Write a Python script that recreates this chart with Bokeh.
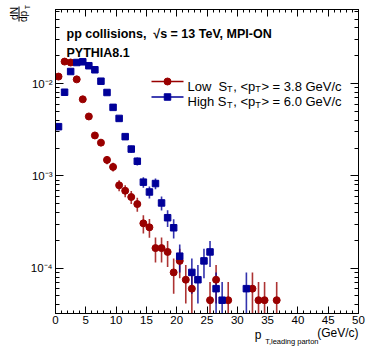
import math
from bokeh.plotting import figure
from bokeh.models import (Range1d, LinearAxis, LogAxis, SingleIntervalTicker,
                          FixedTicker, Label, ColumnDataSource)
from bokeh.embed import file_html
from bokeh.resources import INLINE

# ---------------- data ----------------
low_x = [0.5, 1.5, 2.5, 3.5, 4.5, 5.5, 6.5, 7.5, 8.5, 9.5, 10.5, 11.5, 12.5, 13.5,
         14.5, 15.5, 16.5, 17.5, 18.5, 19.5, 20.5, 21.5, 22.5, 25.5, 26.5, 28.5,
         32.5, 33.5, 34.5, 36.5]
low_y = [0.0119, 0.0173, 0.0169, 0.0111, 0.00675, 0.00440, 0.00274, 0.00229, 0.00149,
         0.00125, 0.00079, 0.00069, 0.00059, 0.000495, 0.000306, 0.000277, 0.000165,
         0.000165, 0.000150, 0.000090, 0.000120, 0.000075, 0.000060, 0.000045,
         0.000075, 0.000045, 0.000060, 0.000045, 0.000045, 0.000045]
low_err = [4.2e-4, 5.1e-4, 5.0e-4, 4.1e-4, 3.2e-4, 2.6e-4, 2.0e-4, 1.85e-4, 1.5e-4,
           1.37e-4, 1.09e-4, 1.02e-4, 9.4e-5, 8.6e-5, 6.8e-5, 6.4e-5, 5.0e-5,
           5.0e-5, 4.7e-5, 3.7e-5, 4.2e-5, 3.35e-5, 3.0e-5, 2.6e-5,
           3.35e-5, 2.6e-5, 3.0e-5, 2.6e-5, 2.6e-5, 2.6e-5]

high_x = [0.5, 1.5, 2.5, 3.5, 4.5, 5.5, 6.5, 7.5, 8.5, 9.5, 10.5, 11.5, 12.5, 13.5,
          14.5, 15.5, 16.5, 17.5, 18.5, 19.5, 20.5, 22.5, 23.5, 24.5, 25.5, 26.5,
          27.5, 31.5]
high_y = [0.00341, 0.00805, 0.0135, 0.0169, 0.0172, 0.0156, 0.0141, 0.0106, 0.0080,
          0.00552, 0.00419, 0.00266, 0.00195, 0.00144, 0.000855, 0.000669, 0.000826,
          0.000509, 0.000352, 0.000274, 0.000135, 0.000090, 0.000075, 0.000120,
          0.000150, 0.000060, 0.000045, 0.000060]
high_err = [2.26e-4, 3.5e-4, 4.5e-4, 5.0e-4, 5.1e-4, 4.85e-4, 4.6e-4, 4.0e-4, 3.5e-4,
            2.9e-4, 2.5e-4, 2.0e-4, 1.7e-4, 1.46e-4, 1.13e-4, 1.0e-4, 1.1e-4,
            8.7e-5, 7.2e-5, 6.4e-5, 4.5e-5, 3.7e-5, 3.35e-5, 4.2e-5,
            4.7e-5, 3.0e-5, 2.6e-5, 3.0e-5]

x_ticks = [0, 5, 10, 15, 20, 25, 30, 35, 40, 45, 50]
y_ticks = [1e-4, 1e-3, 1e-2]
y_tick_labels = ["10\u207b\u2074", "10\u207b\u00b3", "10\u207b\u00b2"]

header1 = "pp collisions,\u00a0 \u221as = 13 TeV, MPI-ON"
header2 = "PYTHIA8.1"
legend_low = ("Low\u00a0 S", "T", ", <p", "T", "> = 3.8 GeV/c")
legend_high = ("High S", "T", ", <p", "T", "> = 6.0 GeV/c")
x_title = ("p", "T,leading parton", "(GeV/c)")
y_title = ("dN", "dp", "T")

RED = "#990000"
BLUE = "#000099"

# ---------------- geometry ----------------
W, H = 366, 353
FL, FR, FT, FB = 55, 358, 9, 313          # frame edges in page pixels
XMIN, XMAX = 0.0, 50.0
YMIN, YMAX = 3.23e-5, 0.0634
LMIN, LMAX = math.log10(YMIN), math.log10(YMAX)


def dx(px):
    return XMIN + (px - FL) * (XMAX - XMIN) / (FR - FL)


def dy(py):
    return 10 ** (LMAX - (py - FT) * (LMAX - LMIN) / (FB - FT))


p = figure(width=W, height=H, y_axis_type="log",
           x_range=Range1d(XMIN, XMAX), y_range=Range1d(YMIN, YMAX),
           output_backend="svg", toolbar_location=None,
           min_border_left=FL, min_border_right=W - FR,
           min_border_top=FT, min_border_bottom=H - FB)
p.styles = {"position": "absolute", "left": "0px", "top": "0px"}
p.xgrid.visible = False
p.ygrid.visible = False
p.outline_line_color = "black"
p.outline_line_width = 1
p.background_fill_color = "white"
p.border_fill_color = "white"

FONT = "Liberation Sans"

# x axis
xa = p.xaxis[0]
xa.ticker = SingleIntervalTicker(interval=5, num_minor_ticks=5)
xa.major_tick_in = 7
xa.major_tick_out = 0
xa.minor_tick_in = 3
xa.minor_tick_out = 0
xa.major_label_standoff = 2
xa.major_label_text_font = FONT
xa.major_label_text_font_size = "11.5px"
xa.major_label_text_color = "black"
xa.axis_line_color = "black"

# y axis
minor_y = []
for e in (-5, -4, -3, -2):
    for m in range(2, 10):
        v = m * 10 ** e
        if YMIN <= v <= YMAX:
            minor_y.append(v)
ya = p.yaxis[0]
ya.ticker = FixedTicker(ticks=y_ticks, minor_ticks=minor_y)
ya.major_label_overrides = {t: lab for t, lab in zip(y_ticks, y_tick_labels)}
ya.major_tick_in = 8
ya.major_tick_out = 0
ya.minor_tick_in = 4
ya.minor_tick_out = 0
ya.major_label_standoff = 3
ya.major_label_text_font = FONT
ya.major_label_text_font_size = "11.5px"
ya.major_label_text_color = "black"
ya.axis_line_color = "black"

# mirrored axes (ticks only, labels invisible)
xt = LinearAxis(ticker=SingleIntervalTicker(interval=5, num_minor_ticks=5),
                major_tick_in=7, major_tick_out=0, minor_tick_in=3, minor_tick_out=0,
                major_label_text_font_size="1px", major_label_text_color=None,
                major_label_standoff=0, axis_line_color="black")
p.add_layout(xt, "above")
yr = LogAxis(ticker=FixedTicker(ticks=y_ticks, minor_ticks=minor_y),
             major_tick_in=8, major_tick_out=0, minor_tick_in=4, minor_tick_out=0,
             major_label_text_font_size="1px", major_label_text_color=None,
             major_label_standoff=0, axis_line_color="black")
p.add_layout(yr, "right")

# ---------------- data glyphs ----------------
low_src = ColumnDataSource(dict(x=low_x, y=low_y,
                                lo=[max(a - b, 1e-9) for a, b in zip(low_y, low_err)],
                                hi=[a + b for a, b in zip(low_y, low_err)]))
high_src = ColumnDataSource(dict(x=high_x, y=high_y,
                                 lo=[max(a - b, 1e-9) for a, b in zip(high_y, high_err)],
                                 hi=[a + b for a, b in zip(high_y, high_err)]))

p.segment(x0="x", y0="lo", x1="x", y1="hi", source=low_src, line_color=RED,
          line_width=1.6, line_alpha=0.8)
p.segment(x0="x", y0="lo", x1="x", y1="hi", source=high_src, line_color=BLUE,
          line_width=1.6, line_alpha=0.8)
p.scatter(x="x", y="y", source=low_src, marker="circle", size=7,
          fill_color=RED, line_color=RED)
p.scatter(x="x", y="y", source=high_src, marker="square", size=6.5,
          fill_color=BLUE, line_color=BLUE)

# legend symbols (drawn by hand inside the frame)
for ypx, col, mk, msize in ((81, RED, "circle", 7), (96.5, BLUE, "square", 6.5)):
    p.line([dx(151), dx(183)], [dy(ypx), dy(ypx)], line_color=col, line_width=1.5)
    p.scatter([dx(167)], [dy(ypx)], marker=mk, size=msize, fill_color=col, line_color=col)

# ---------------- transparent overlay for all texts (page pixel coords) ----------------
q = figure(width=W, height=H, x_range=Range1d(0, W), y_range=Range1d(H, 0),
           output_backend="svg", toolbar_location=None, title=None,
           x_axis_location=None, y_axis_location=None, min_border=0,
           background_fill_color=None, border_fill_color=None, outline_line_color=None)
q.styles = {"position": "absolute", "left": "0px", "top": "0px"}
q.xgrid.visible = False
q.ygrid.visible = False


def txt(s, px, py, size, bold=False, angle=0.0, align="left", baseline="alphabetic"):
    q.add_layout(Label(x=px, y=py, text=s, text_font=FONT,
                       text_font_size=f"{size}px",
                       text_font_style="bold" if bold else "normal",
                       text_color="black", angle=angle, text_align=align,
                       text_baseline=baseline))


LF = 13
SF = 9
for parts, by in ((legend_low, 85.5), (legend_high, 101)):
    x0 = 187
    txt(parts[0], x0, by, LF)
    x1 = x0 + 39.5
    txt(parts[1], x1, by + 3, SF)
    x2 = x1 + 6.2
    txt(parts[2], x2, by, LF)
    x3 = x2 + 22
    txt(parts[3], x3, by + 3, SF)
    x4 = x3 + 6.2
    txt(parts[4], x4, by, LF)

# header
txt(header1, 66, 33, 12.5, bold=True)
txt(header2, 66, 52.5, 12.5, bold=True)

# x title
txt(x_title[2], 358, 332, 12, align="right")
txt(x_title[1], 318, 341, 7.5, align="right")
txt(x_title[0], 261, 334, 12, align="right")

# y title (rotated fraction)
txt(y_title[0], 13.5, 13, 10, angle=math.pi / 2, align="center", baseline="middle")
q.segment(x0=[18.5], y0=[6], x1=[18.5], y1=[21], line_color="black", line_width=1)
txt(y_title[1], 23, 16, 10, angle=math.pi / 2, align="center", baseline="middle")
txt(y_title[2], 26.5, 6.5, 7, angle=math.pi / 2, align="center", baseline="middle")

open("out.html", "w").write(file_html([p, q], INLINE))
